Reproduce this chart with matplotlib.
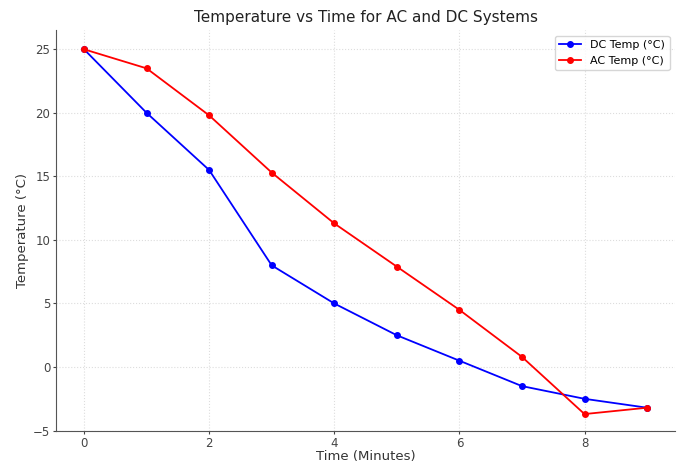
import matplotlib
matplotlib.use("Agg")
import matplotlib.pyplot as plt

minutes = [0, 1, 2, 3, 4, 5, 6, 7, 8, 9]
dc_temp = [25, 20, 15.5, 8, 5, 2.5, 0.5, -1.5, -2.5, -3.2]
ac_temp = [25, 23.5, 19.8, 15.3, 11.3, 7.9, 4.5, 0.8, -3.7, -3.2]

fig, ax = plt.subplots(figsize=(6.89, 4.65), dpi=100)
ax.plot(minutes, dc_temp, "o-", color="blue", markersize=4, linewidth=1.3, label="DC Temp (°C)")
ax.plot(minutes, ac_temp, "o-", color="red", markersize=4, linewidth=1.3, label="AC Temp (°C)")
ax.set_xlabel("Time (Minutes)", fontsize=9.5, labelpad=0, color="#333333")
ax.set_ylabel("Temperature (°C)", fontsize=9.5, labelpad=3, color="#333333")
ax.set_title("Temperature vs Time for AC and DC Systems", fontsize=11, color="#222222")
ax.set_xlim(-0.44, 9.45)
ax.set_ylim(-5, 26.5)
ax.set_yticks([-5, 0, 5, 10, 15, 20, 25])
ax.tick_params(labelsize=8.5, length=2.5, pad=2, colors="#444444")
ax.grid(True, color="#dddddd", linestyle=":", linewidth=0.8)
ax.spines["top"].set_visible(False)
ax.spines["right"].set_visible(False)
ax.spines["left"].set_color("#555555")
ax.spines["bottom"].set_color("#555555")
ax.legend(loc="upper right", fontsize=8)
plt.subplots_adjust(left=0.082, right=0.98, top=0.935, bottom=0.074)
plt.savefig("out.png", dpi=100)
